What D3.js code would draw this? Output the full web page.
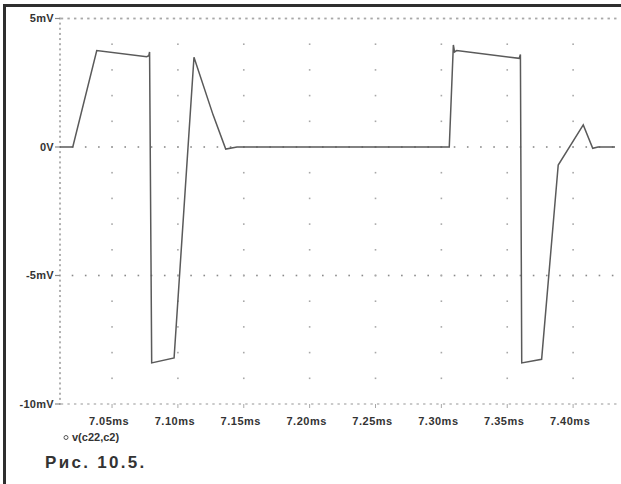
<!DOCTYPE html>
<html>
<head>
<meta charset="utf-8">
<script src="https://cdn.jsdelivr.net/npm/d3@7"></script>
<style>
  html, body { margin: 0; padding: 0; background: #fff; }
  svg { display: block; }
  text { font-family: Arial, "Liberation Sans", sans-serif; fill: #333; }
</style>
</head>
<body>
<svg id="chart" width="621" height="484"></svg>
<script>
// Trace v(c22,c2): time in ms, voltage in mV
const timeMs = [7.0105, 7.0202, 7.0384, 7.0763, 7.0779, 7.0785, 7.0801, 7.0971, 7.1122, 7.1267, 7.1363, 7.1449,
                7.3060, 7.3091, 7.3100, 7.3116, 7.3591, 7.3600, 7.3610, 7.3761, 7.3887, 7.4077, 7.4149, 7.4189, 7.4318];
const voltMv = [0, 0, 3.75, 3.51, 3.55, 3.70, -8.40, -8.21, 3.49, 1.25, -0.08, 0,
                0, 3.97, 3.70, 3.75, 3.45, 3.60, -8.40, -8.26, -0.70, 0.86, -0.05, 0, 0];

const xTicks = [7.05, 7.10, 7.15, 7.20, 7.25, 7.30, 7.35, 7.40];
const xTickLabels = ["7.05ms", "7.10ms", "7.15ms", "7.20ms", "7.25ms", "7.30ms", "7.35ms", "7.40ms"];
const yTicks = [5, 0, -5, -10];
const yTickLabels = ["5mV", "0V", "-5mV", "-10mV"];
const traceName = "v(c22,c2)";
const caption = "Рис. 10.5.";

const svg = d3.select("#chart");
const x = d3.scaleLinear().domain([7.0105, 7.4318]).range([60, 615]);
const y = d3.scaleLinear().domain([-10, 5]).range([404, 18.5]);

const gridCol = "#8a8a8a";
const lightGrid = "#a8a8a8";

// page frame (top and left edges)
svg.append("line").attr("x1", 4.5).attr("x2", 621).attr("y1", 5.5).attr("y2", 5.5)
  .attr("stroke", "#2e2e2e").attr("stroke-width", 3);
svg.append("line").attr("x1", 4.5).attr("x2", 4.5).attr("y1", 4).attr("y2", 484)
  .attr("stroke", "#2e2e2e").attr("stroke-width", 3);

const grid = svg.append("g");
const dot = (cx, cy, w, h, col) => grid.append("rect")
  .attr("x", cx - w / 2).attr("y", cy - h / 2).attr("width", w).attr("height", h)
  .attr("fill", col || gridCol);

// top and bottom edges of the plot: dense dashes every 0.005 ms
d3.range(7.0105, 7.432, 0.005).forEach(t => {
  dot(x(t) + 2, y(5), 2.4, 1.8, lightGrid);
  dot(x(t) + 2, y(-10), 2.4, 1.2, lightGrid);
});
// left axis: dashes every 0.2 mV
d3.range(-10, 5.001, 0.2).forEach(v => dot(x.range()[0], y(v), 1.8, 2, lightGrid));

// 0 V and -5 mV rows: dots every 0.01 ms
[0, -5].forEach(v => {
  d3.range(7.02, 7.435, 0.01).forEach(t => dot(x(t), y(v), 1.6, 1.6));
});
// vertical grid at each time tick: dots every 1 mV
xTicks.forEach(t => {
  d3.range(-9, 5, 1).forEach(v => dot(x(t), y(v), 1.6, 1.6, lightGrid));
  // tick below bottom edge
  grid.append("line").attr("x1", x(t)).attr("x2", x(t))
    .attr("y1", y(-10)).attr("y2", y(-10) + 4)
    .attr("stroke", lightGrid).attr("stroke-width", 1);
});

// y labels with small ticks
yTicks.forEach((v, i) => {
  grid.append("line").attr("x1", 55).attr("x2", 60).attr("y1", y(v)).attr("y2", y(v))
    .attr("stroke", gridCol).attr("stroke-width", 1.2);
  svg.append("text").attr("x", 54).attr("y", y(v)).attr("dy", "0.36em")
    .attr("text-anchor", "end").attr("font-size", 11).attr("font-weight", "bold")
    .attr("letter-spacing", "0.3").text(yTickLabels[i]);
});

// x labels
xTicks.forEach((t, i) => {
  svg.append("text").attr("x", x(t) - 3).attr("y", 425)
    .attr("text-anchor", "middle").attr("font-size", 11).attr("font-weight", "bold")
    .attr("letter-spacing", "0.5").text(xTickLabels[i]);
});

// trace
const line = d3.line().x((d, i) => x(timeMs[i])).y((d, i) => y(voltMv[i]));
svg.append("path").datum(voltMv).attr("d", line)
  .attr("fill", "none").attr("stroke", "#5a5a5a").attr("stroke-width", 1.5)
  .attr("stroke-linejoin", "miter");

// legend
svg.append("circle").attr("cx", 66).attr("cy", 437.5).attr("r", 2)
  .attr("fill", "none").attr("stroke", "#555").attr("stroke-width", 1);
svg.append("text").attr("x", 72).attr("y", 441).attr("font-size", 11)
  .attr("font-weight", "bold").text(traceName);

// caption
svg.append("text").attr("x", 45).attr("y", 468).attr("font-size", 17)
  .attr("font-weight", "bold").attr("letter-spacing", "2.3").attr("fill", "#2b2b2b")
  .text(caption);
</script>
</body>
</html>
